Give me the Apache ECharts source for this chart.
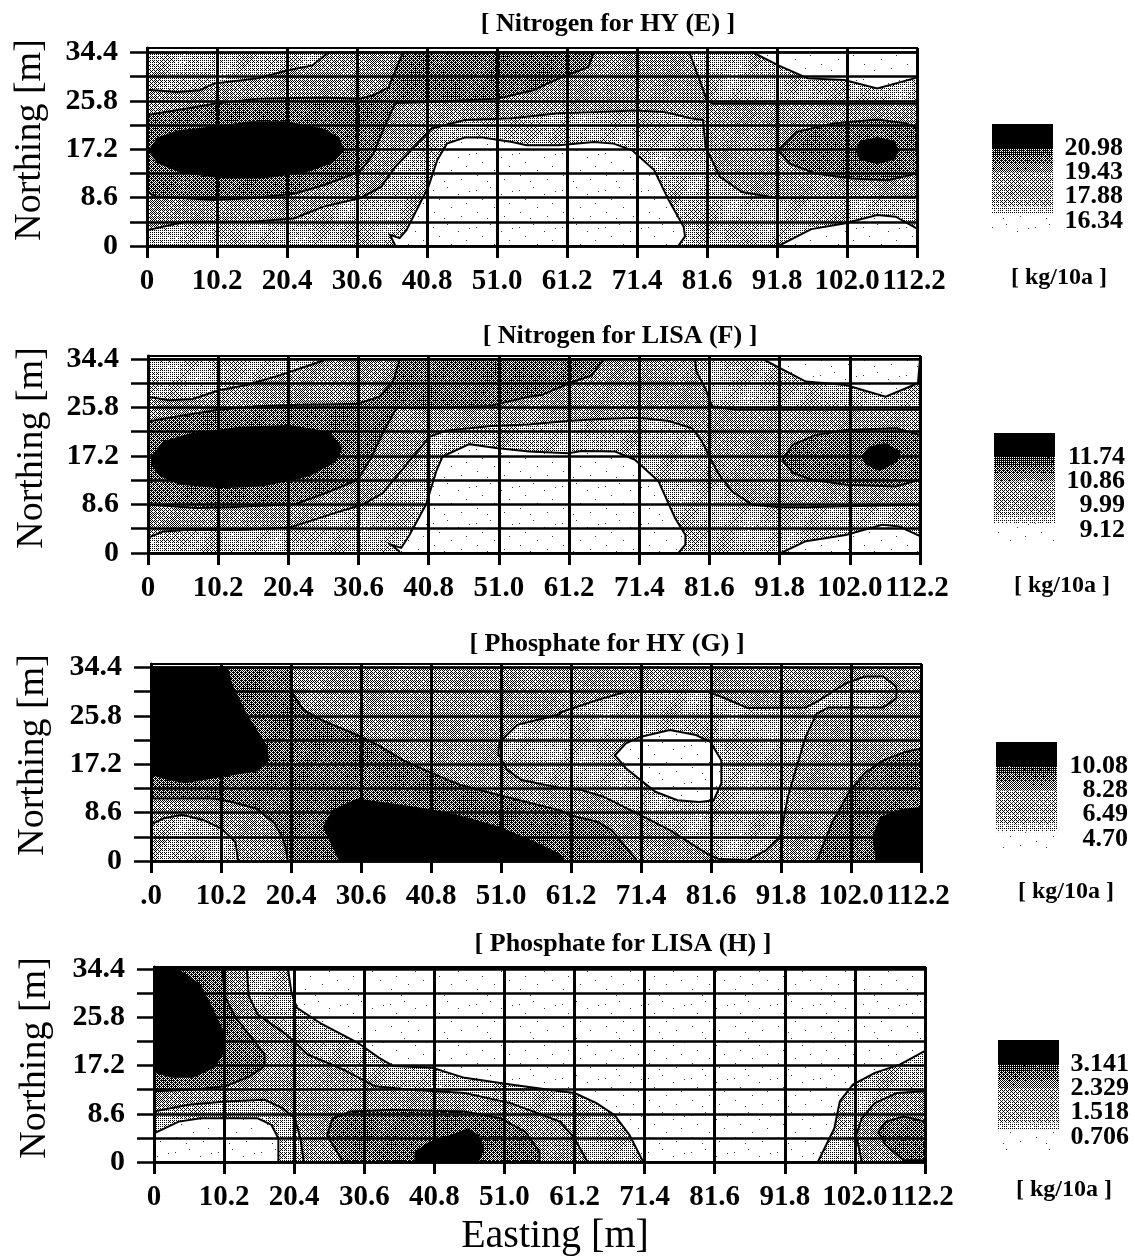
<!DOCTYPE html>
<html><head><meta charset="utf-8">
<style>html,body{margin:0;padding:0;background:#fff}#c{width:1135px;height:1259px}</style>
<script src="https://cdn.jsdelivr.net/npm/echarts@6/dist/echarts.min.js"></script>
</head><body><div id="c"></div>
<script>
// ---------- axis ticks ----------
const eastingTicks = ['0','10.2','20.4','30.6','40.8','51.0','61.2','71.4','81.6','91.8','102.0','112.2'];
const northingTicks = ['0','','8.6','','17.2','','25.8','','34.4'];
const northingValues = [0,4.3,8.6,12.9,17.2,21.5,25.8,30.1,34.4];
const fullField = [[0,0],[112.2,0],[112.2,34.4],[0,34.4]];

// ---------- contour polygons, [easting m, northing m] ----------
// Panel E: Nitrogen for HY
const E_band = [[0,27.8],[4.5,27.4],[7.7,27.7],[9.8,28.9],[16.1,29.8],[20.4,31.2],[24.1,32.1],[25.9,33.9],[26.5,34.4],[79,34.4],[79.2,33.9],[80,31.2],[81.4,26.5],[81.6,25.9],[82.4,25.3],[112.2,25.3],[112.2,8.8],[92,8.5],[86.7,9.6],[83.5,12.3],[81.4,17.6],[81,22.4],[79.2,22.7],[75.5,23.8],[71.2,24.1],[65.4,23.8],[60,23.6],[53.2,22.7],[46.3,22.4],[41.5,20.9],[36.2,14.1],[34.1,10.5],[31,8.5],[25.7,7],[21.4,4.9],[15.1,4.3],[5.6,4.3],[0,2.8]];
const E_dark = [[0,23.3],[5.6,24.4],[9.8,25.3],[16.1,26.2],[25.7,26.4],[31,26.2],[33,26.8],[35.2,28.2],[36.2,31.2],[37.3,34.4],[65.1,34.4],[64.3,31.8],[60,29.8],[56.3,27.7],[51.1,26.2],[41.5,25.6],[36.2,25.4],[34.7,21.5],[33,16.4],[31,13.2],[25.7,10.8],[21.4,9.3],[15.1,8.5],[9.8,8.2],[1.3,8.8],[0,9.6]];
const E_darkRight = [[92,17],[94.7,20.3],[100,21.8],[106.4,22.5],[110.7,21.8],[112.2,20.9],[112.2,12.9],[108,11.7],[102.7,12],[97.4,12.9],[93.6,14.7]];
const E_black = [[0.2,17],[1.5,19.3],[4.5,20.6],[9.8,21.3],[15.1,22.2],[20.4,22.2],[25.7,20.9],[28,19.3],[28.8,17],[27,14.7],[23,13],[17,12],[11,12],[5,13],[1.5,14.7]];
const E_blackRight = [[103.2,17],[103.9,18.7],[106.4,19.4],[108.9,18.7],[109.6,17],[108.9,15.3],[106.4,14.6],[103.9,15.3]];
const E_whiteCentre = [[36.2,0],[35.4,2],[36.8,1.4],[37.8,2.8],[41,10.5],[42.3,15.3],[43.7,18.2],[46.3,19.3],[48.9,19.3],[53.2,18.5],[55.3,17.9],[60,17.9],[65.1,18.5],[68,18.2],[70.7,17],[73.9,13.5],[76,8.2],[78.2,3.4],[78.4,1.7],[77.4,0]];
const E_whiteTop = [[88.3,34.4],[92,32.1],[96.3,29.8],[101.6,29.5],[106.4,28],[111.8,29.8],[112.2,30],[112.2,34.4]];
const E_whiteBottom = [[92,0],[96.8,3],[101.6,4],[106.4,5.5],[109.1,5.2],[112.2,3.1],[112.2,0]];

// Panel F: Nitrogen for LISA
const F_band = [[0,27.7],[3.1,27.1],[6.5,27.3],[10.2,28.8],[14.3,29.8],[19.1,31.5],[25.2,34],[25.8,34.4],[79.5,34.4],[79.7,32.2],[81,29.2],[82,26],[85.4,25.4],[112.2,25.4],[112.2,8.6],[95.6,8.1],[91.8,8.1],[87.8,8.6],[84.9,10.9],[83,13.9],[81.7,16.8],[80.5,19.8],[79.1,22.1],[75.7,23.4],[71.3,24],[65,23.7],[61.1,23.4],[57.2,23],[55.4,22.8],[49.9,22.5],[43.3,21.7],[40.9,20.6],[37.5,15.6],[34.1,10.6],[31.2,8.6],[26.4,6.8],[20.6,4.5],[13.3,4.1],[6,4.1],[2.2,3.8],[0,2.7]];
const F_dark = [[0,23.3],[3.1,24],[10.2,25.4],[15.7,26],[22,26.3],[30.3,26.4],[33.6,27.7],[35.6,30.4],[36.5,34],[36.6,34.4],[66.2,34.4],[66,34],[64.5,31.5],[61.2,30.1],[57.2,28],[55.3,27.7],[49.4,26],[40.8,25.7],[36.1,25.7],[34.1,21.2],[32.4,16.8],[30.5,13],[26.4,10.9],[21.5,8.7],[11.9,8.1],[7,8],[0,8.6]];
const F_darkRight = [[92.2,16.5],[93.7,19.2],[97,20.9],[101.4,21.8],[108.7,22.1],[112.2,20.9],[112.2,13],[108.7,11.8],[101.4,12.1],[96.5,13],[93.7,14.2]];
const F_black = [[0.5,17.1],[2.2,19.8],[6,21.2],[13.3,22.4],[20.6,22.7],[26.4,21.5],[28.3,18.6],[27.3,16.2],[23.5,13.6],[16.7,11.8],[10.4,11.5],[4.6,12.1],[1.7,13.6],[0.5,15.6]];
const F_blackRight = [[103.6,17.1],[104.8,18.9],[107.2,19.5],[109.4,18],[108.9,16.2],[106.3,14.5],[104.3,15.7]];
const F_whiteCentre = [[36.5,0],[36.5,0.3],[35.3,1.5],[36.8,0.9],[38,3.2],[40.4,8.6],[41.9,14.5],[42.8,17.1],[46.7,19.3],[50.6,18.6],[55.4,18],[61.1,17.7],[63,18.1],[67.9,18],[70.8,16.5],[74.2,12.7],[76.6,6.2],[78.1,3.2],[78.1,1.5],[77.1,0]];
const F_whiteTop = [[89.3,34.4],[95.6,30.4],[101.4,29.8],[107.2,27.7],[111.9,30.1],[112.2,34.4]];
const F_whiteBottom = [[92,0],[95.6,2.1],[101.4,3.2],[106.7,5],[109.2,4.7],[112.2,3],[112.2,0]];

// Panel G: Phosphate for HY
const G_dark = [[0,34.4],[20.4,34.4],[20.6,29.8],[22.2,26.9],[24.8,25.1],[30,22.4],[33.1,20.6],[36.8,17.9],[40.4,15.9],[45.1,13.5],[50.8,11.7],[59.6,9],[61.2,8.1],[65,7],[67.1,5.5],[69.2,2.5],[70.8,0],[19.9,0],[19.6,2.5],[19.1,4.3],[18,6.7],[15.4,9.3],[11.8,10.5],[9.2,11.1],[0,11.1]];
const G_blackTop = [[0,34.4],[11.25,34.4],[11.8,31.6],[13.9,26.3],[17,20.3],[17.2,17.9],[15.4,15.9],[9.2,14.7],[5,13.8],[2.4,14.4],[0,15.3]];
const G_blackMid = [[27.4,0],[25,6.1],[26.4,9],[30,11.1],[35.2,10.2],[40.4,9.3],[45.1,8.1],[50.8,6.1],[56,3.4],[59.6,1.3],[60.4,0]];
const G_lightCorner = [[0,6.5],[1.9,7.6],[4.5,8.2],[7.6,7.3],[10.2,5.8],[12.3,3.4],[12.7,0],[0,0]];
const G_lightLoop = [[59.6,26.1],[53.4,24.2],[50.8,21.2],[50.6,19.1],[51.9,16.2],[54,14.4],[59.6,13],[62.8,12.6],[66,11.4],[71.4,8.1],[75.6,5.5],[81,1.3],[82.6,0.4],[86.9,0.1],[89.6,1.9],[91.7,4.3],[92.8,11.4],[93.8,15.6],[95.4,22.1],[97,26.2],[98.7,27.3],[106.7,27.3],[108.6,28.9],[108.6,31],[106.7,32.8],[104,32.8],[101.3,31.6],[97,28.3],[95.4,27.3],[86.9,27.2],[83.1,29.2],[81,30.1],[69.2,30.1],[65,28.6],[59.6,26.4]];
const G_white = [[67.6,18.8],[69.2,20.9],[71.4,22.1],[75.6,23.3],[79.4,22.4],[81.5,21.2],[83.1,17.9],[83.1,13.8],[82,10.8],[79.9,10.5],[76.7,10.8],[73.5,12.3],[69.2,16.5]];
const G_darkRight = [[97,0],[99.2,6.7],[101.9,12.6],[104,15.6],[106.7,17.9],[109.9,19.4],[112.2,20],[112.2,0]];
const G_blackRight = [[105.6,0],[105.1,4.3],[106.2,7.8],[109.4,9.3],[112.2,9.6],[112.2,0]];

// Panel H: Phosphate for LISA
const H_light = [[0,34.4],[19.5,34.4],[20,30.2],[20.8,27.5],[24.4,24.6],[29.6,21.3],[32.7,18.6],[34.8,17.1],[40.5,16.8],[45.2,15],[51.9,13.8],[59.1,12.6],[61.2,12.3],[64.4,10.5],[67,8.4],[69.2,4.8],[71.2,0],[0,0]];
const H_whiteCorner = [[0,5.1],[3.6,7.2],[6.8,7.8],[15.1,7.8],[17.1,6.6],[18.1,4.2],[18.1,0],[0,0]];
const H_mid = [[0,34.4],[13.5,34.4],[13.8,29.6],[15.1,26.3],[19.2,22.8],[22.3,19.2],[27.5,16.5],[32.2,13.5],[37.4,12.9],[45.2,12.3],[51.9,10.5],[59.1,7.2],[61.2,4.2],[63.1,0],[21.8,0],[21.3,4.2],[20.5,7.8],[18.7,9.6],[16.1,11.1],[10.4,10.8],[5,10.2],[0,9]];
const H_dark = [[0,34.4],[9.9,34.4],[10.4,29.3],[11.9,25.7],[14,22.5],[16.1,19.2],[16.1,17.1],[14,15.3],[10.4,13.5],[5.7,12.9],[0,12.6]];
const H_black = [[0,34.4],[3.6,34.4],[6.8,31.7],[8.8,26.9],[10.1,23.4],[10.1,19.2],[8.8,16.8],[5.7,15],[2.6,15],[0,15.9]];
const H_darkMid = [[27.5,0],[25.2,4.8],[26,7.8],[28.6,9],[34.8,9.3],[45.2,9],[50.4,7.8],[54,5.4],[56.1,1.8],[56.1,0]];
const H_blackMid = [[37.9,0],[37.9,1.8],[40,3.6],[43.1,4.8],[45.7,6],[47.3,4.8],[48.1,2.4],[47.3,0]];
const H_lightRight = [[96.6,0],[99,6],[99.8,10.8],[101.7,13.8],[104.9,15.9],[108.6,17.4],[112.2,19.8],[112.2,0]];
const H_midRight = [[103,0],[102.2,4.8],[103,7.8],[104.9,10.5],[108.1,12.3],[112.2,12.6],[112.2,0]];
const H_darkRight = [[109.1,0.3],[106.5,3],[105.4,5.4],[106.5,7.2],[109.1,8.1],[112.2,7.2],[112.2,0.3]];

// ---------- legend levels, kg/10a ----------
const E_levels = [20.98,19.43,17.88,16.34];
const F_levels = [11.74,10.86,9.99,9.12];
const G_levels = [10.08,8.28,6.49,4.70];
const H_levels = [3.141,2.329,1.518,0.706];

// ---------- tone table: 0 white, 1 light, 2 mid, 3 dark, 4 black ----------
const panels = [
 {title:'[ Nitrogen for HY (E) ]', titleX:603, titleY:6, left:147,right:917,top:48,bottom:246,ymax:35.2,
  zero:'0', levels:E_levels, dec:2, legend:[992,124,61,111], legMargin:70, unit:[1059,278], north:[30,140],
  polys:[[1,fullField],[0,E_whiteCentre],[0,E_whiteTop],[0,E_whiteBottom],[2,E_band],[3,E_dark],[3,E_darkRight],[4,E_black],[4,E_blackRight]]},
 {title:'[ Nitrogen for LISA (F) ]', titleX:615, titleY:318, left:148,right:920,top:356,bottom:553,ymax:34.93,
  zero:'0', levels:F_levels, dec:2, legend:[994,433,61,111], legMargin:70, unit:[1062,586], north:[32,448],
  polys:[[1,fullField],[0,F_whiteCentre],[0,F_whiteTop],[0,F_whiteBottom],[2,F_band],[3,F_dark],[3,F_darkRight],[4,F_black],[4,F_blackRight]]},
 {title:'[ Phosphate for HY (G) ]', titleX:602, titleY:626, left:151,right:921,top:664,bottom:861,ymax:35.02,
  zero:'.0', levels:G_levels, dec:2, legend:[996,742,61,111], legMargin:71, unit:[1066,892], north:[33,755],
  polys:[[2,fullField],[1,G_lightLoop],[0,G_white],[3,G_dark],[3,G_darkRight],[1,G_lightCorner],[4,G_blackTop],[4,G_blackMid],[4,G_blackRight]]},
 {title:'[ Phosphate for LISA (H) ]', titleX:618, titleY:926, left:154,right:925,top:967,bottom:1162,ymax:34.76,
  zero:'0', levels:H_levels, dec:3, legend:[998,1040,61,111], legMargin:70, unit:[1064,1190], north:[35,1058],
  polys:[[0,fullField],[1,H_light],[2,H_mid],[0,H_whiteCorner],[3,H_dark],[4,H_black],[3,H_darkMid],[4,H_blackMid],[1,H_lightRight],[2,H_midRight],[3,H_darkRight]]}
];

// ---------- stipple fills ----------
const bayer=[0,32,8,40,2,34,10,42,48,16,56,24,50,18,58,26,12,44,4,36,14,46,6,38,60,28,52,20,62,30,54,22,3,35,11,43,1,33,9,41,51,19,59,27,49,17,57,25,15,47,7,39,13,45,5,37,63,31,55,23,61,29,53,21];
const cache={};
function patch(mean,amp){
  const key=mean+'_'+amp;
  if(cache[key]) return cache[key];
  const S=128,c=document.createElement('canvas');c.width=S;c.height=S;
  const x=c.getContext('2d');x.fillStyle='#fff';x.fillRect(0,0,S,S);x.fillStyle='#000';
  const t=2*Math.PI/S;
  for(let j=0;j<S;j++)for(let i=0;i<S;i++){
    const d=mean+amp*(Math.sin(t*(3*i+j))+Math.sin(t*(i-2*j)+1)+Math.sin(t*(5*i+3*j)+2))/2;
    if(bayer[(j%8)*8+i%8]<d*64) x.fillRect(i,j,1,1);
  }
  return cache[key]={image:c,repeat:'repeat'};
}
const sparseDots=[[3,5],[17,2],[28,9],[9,14],[36,18],[21,22],[4,27],[31,31],[14,33],[39,6]];
function sparse(){
  if(cache.sparse) return cache.sparse;
  const c=document.createElement('canvas');c.width=43;c.height=37;
  const x=c.getContext('2d');x.fillStyle='#fff';x.fillRect(0,0,43,37);x.fillStyle='#333';
  sparseDots.forEach(p=>x.fillRect(p[0],p[1],1,1));
  return cache.sparse={image:c,repeat:'repeat'};
}
const toneFill=[sparse,()=>patch(0.3,0.08),()=>patch(0.42,0.04),()=>patch(0.62,0.04),()=>'#000'];

// legend gradient: [level above, level below, start fraction, density]
const legendSteps=[[0,1,0,0.74],[0,1,0.33,0.62],[0,1,0.66,0.5],[1,2,0,0.36],[1,2,0.5,0.36],[2,3,0,0.33],[2,3,0.4,0.2]];

const W=1135,H=1259,serif='"Liberation Serif","Times New Roman",serif';
const grid=[],xAxis=[],yAxis=[],series=[],title=[],graphic=[];

panels.forEach((p,i)=>{
  grid.push({left:p.left,top:p.top,width:p.right-p.left,height:p.bottom-p.top,show:true,borderColor:'#000',borderWidth:2,backgroundColor:'#fff'});
  xAxis.push({type:'value',gridIndex:i,min:0,max:112.2,interval:10.2,z:5,
    axisLine:{show:true,onZero:false,lineStyle:{color:'#000',width:2.5}},
    axisTick:{show:true,length:12,lineStyle:{color:'#000',width:3}},
    splitLine:{show:true,showMinLine:true,showMaxLine:true,lineStyle:{color:'#000',width:3}},
    axisLabel:{margin:21,color:'#000',fontFamily:serif,fontWeight:'bold',fontSize:29,hideOverlap:false,showMinLabel:true,showMaxLabel:true,
      formatter:v=>{const k=Math.round(v/10.2);if(k===0)return p.zero;if(k===11)return '{s|'+eastingTicks[k]+'}';return eastingTicks[k];},
      rich:{s:{padding:[0,6,0,0],fontFamily:serif,fontWeight:'bold',fontSize:29,color:'#000'}}}});
  yAxis.push({type:'value',gridIndex:i,min:0,max:p.ymax,z:5,
    axisLine:{show:true,onZero:false,lineStyle:{color:'#000',width:3}},
    axisTick:{show:true,length:17,customValues:northingValues,lineStyle:{color:'#000',width:2.5}},
    splitLine:{show:true,showMinLine:true,showMaxLine:true,lineStyle:{color:'#000',width:2.5}},
    axisLabel:{margin:29,color:'#000',fontFamily:serif,fontWeight:'bold',fontSize:30,hideOverlap:false,
      customValues:northingValues.filter((v,k)=>northingTicks[k]!==''),
      formatter:v=>northingTicks[Math.round(v/4.3)]}});
  series.push({type:'custom',xAxisIndex:i,yAxisIndex:i,z:1,silent:true,clip:true,
    data:p.polys.map((q,k)=>[q[1][0][0],q[1][0][1],k]),
    encode:{x:0,y:1},
    renderItem:(params,api)=>{
      const q=p.polys[params.dataIndex];
      return {type:'polygon',shape:{points:q[1].map(pt=>api.coord(pt))},
        style:{fill:toneFill[q[0]](),stroke:'#000',lineWidth:q[0]===4?0:2}};
    }});
  title.push({text:p.title,left:p.titleX,top:p.titleY,textAlign:'center',
    textStyle:{fontFamily:serif,fontWeight:'bold',fontSize:26,color:'#000'}});
  graphic.push({type:'text',x:p.north[0],y:p.north[1],rotation:Math.PI/2,
    style:{text:'Northing [m]',font:'38px '+serif,fill:'#000',textAlign:'center',textVerticalAlign:'middle'}});
  graphic.push({type:'text',x:p.unit[0],y:p.unit[1],
    style:{text:'[ kg/10a ]',font:'bold 24px '+serif,fill:'#000',textAlign:'center',textVerticalAlign:'middle'}});
});

// legend colour bars: each has two label axes, alternate levels on each, so neighbours are never dropped
panels.forEach((p,i)=>{
  const g=i+4,L=p.levels,span=L[0]-L[3],lg=p.legend;
  const lo=L[3]-span*14/73, hi=L[0]+span*24/73;
  grid.push({left:lg[0],top:lg[1],width:lg[2],height:lg[3],show:false});
  xAxis.push({type:'value',gridIndex:g,min:0,max:1,show:false});
  yAxis.push({type:'value',gridIndex:g,position:'right',min:lo,max:hi,
    axisLine:{show:false},axisTick:{show:false},splitLine:{show:false},
    axisLabel:{show:true,showMinLabel:true,showMaxLabel:true,customValues:[L[2],L[0]],align:'right',margin:p.legMargin,color:'#000',fontFamily:serif,fontWeight:'bold',fontSize:26,hideOverlap:false,
      formatter:v=>Number(v).toFixed(p.dec)}});
  const bands=[[hi,L[0],1]];
  legendSteps.forEach((s,k)=>{
    const a=L[s[0]],b=L[s[1]];
    const nx=legendSteps[k+1];
    const end=(nx&&nx[0]===s[0])?a+(b-a)*nx[2]:a+(b-a)*0.72;
    const last=(nx&&nx[0]===s[0])||k===legendSteps.length-1?end:b;
    bands.push([a+(b-a)*s[2],last,s[3]]);
  });
  bands.push([L[2]+(L[3]-L[2])*0.72,lo,0]);
  series.push({type:'custom',xAxisIndex:g,yAxisIndex:g,silent:true,
    data:bands.map(b=>[0.5,b[0],b[1],b[2]]),encode:{x:0,y:[1,2]},
    renderItem:(params,api)=>{
      const a=api.coord([0,api.value(1)]),b=api.coord([1,api.value(2)]),d=api.value(3);
      return {type:'rect',shape:{x:a[0],y:a[1],width:b[0]-a[0],height:b[1]-a[1]},
        style:{fill:d===0?sparse():d===1?'#000':patch(d,0.02)}};
    }});
});
panels.forEach((p,i)=>{
  const g=i+4,L=p.levels,span=L[0]-L[3];
  yAxis.push({type:'value',gridIndex:g,position:'right',min:L[3]-span*14/73,max:L[0]+span*24/73,
    axisLine:{show:false},axisTick:{show:false},splitLine:{show:false},
    axisLabel:{show:true,showMinLabel:true,showMaxLabel:true,customValues:[L[3],L[1]],align:'right',margin:p.legMargin,color:'#000',fontFamily:serif,fontWeight:'bold',fontSize:26,hideOverlap:false,
      formatter:v=>Number(v).toFixed(p.dec)}});
});

graphic.push({type:'text',x:555,y:1236,style:{text:'Easting [m]',font:'40px '+serif,fill:'#000',textAlign:'center',textVerticalAlign:'middle'}});

const chart=echarts.init(document.getElementById('c'),null,{renderer:'canvas',width:W,height:H});
chart.setOption({animation:false,backgroundColor:'#fff',title,grid,xAxis,yAxis,series,graphic});
</script></body></html>
